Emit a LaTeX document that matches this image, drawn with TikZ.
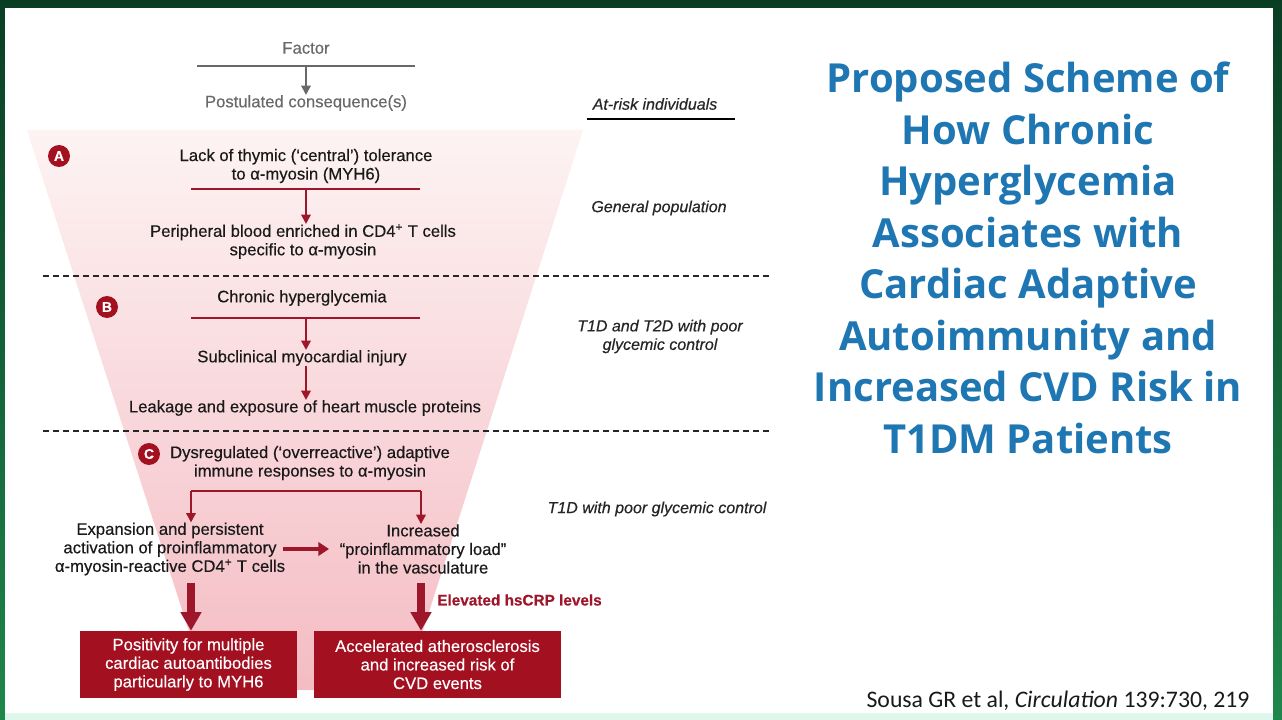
\documentclass[tikz,border=0pt]{standalone}
\usepackage{fontspec}
\setmainfont{Liberation Sans}[FakeBold=0.35]
\newfontfamily\titlefont{Open Sans}
\newfontfamily\citefont{Carlito}
\usetikzlibrary{arrows.meta}
\definecolor{dred}{RGB}{158,22,42}
\definecolor{boxred}{RGB}{163,16,32}
\definecolor{tblue}{RGB}{30,118,178}
\definecolor{fgray}{RGB}{105,105,105}
\definecolor{gtop}{RGB}{10,62,36}
\definecolor{gbot}{RGB}{30,135,76}
\definecolor{pinktop}{RGB}{253,243,243}
\definecolor{pinkbot}{RGB}{244,188,195}
\definecolor{mint}{RGB}{222,246,235}
\begin{document}
\begin{tikzpicture}[x=0.75pt,y=-0.75pt,
  txt/.style={font=\fontsize{12.5}{13.9}\selectfont, align=center, inner sep=0pt, text=black!90},
  gtxt/.style={txt, text=fgray},
  itxt/.style={font=\fontsize{12}{13.9}\selectfont\itshape, align=center, inner sep=0pt, text=black!85},
  wtxt/.style={font=\fontsize{12.5}{13.9}\selectfont, align=center, inner sep=0pt, text=white},
  rbox/.style={fill=boxred, draw=none},
  badge/.style={circle, fill=boxred, text=white, inner sep=0pt, minimum size=16.5pt, font=\fontsize{10.5}{10.5}\selectfont\bfseries},
  rl/.style={draw=dred, line width=2.2pt},
  rarr/.style={draw=dred, line width=1.6pt, -{Triangle[width=7pt,length=7pt]}},
  garr/.style={draw=fgray, line width=1.6pt, -{Triangle[width=7pt,length=7pt]}},
  bigarr/.style={draw=dred, line width=6.5pt, -{Triangle[width=15pt,length=14pt]}},
  harr/.style={draw=dred, line width=3pt, -{Triangle[width=10pt,length=8pt]}},
  dline/.style={draw=black!85, line width=1.5pt, dash pattern=on 4.5pt off 3pt}]
\useasboundingbox (0,0) rectangle (1282,720);
% frame
\shade[top color=gtop, bottom color=gbot] (0,0) rectangle (1282,720);
\fill[white] (5,8) rectangle (1273,713);
\fill[mint] (5,713) rectangle (1273,720);
% funnel
\shade[top color=pinktop, bottom color=pinkbot] (27,130) -- (583,130) -- (404,690) -- (208,690) -- cycle;

% legend
\node[gtxt] (factor) at (306,48) {Factor};
\coordinate (fl) at (197,66);
\coordinate (fr) at (415,66);
\coordinate (fm) at (306,66);
\draw[fgray, line width=2.2pt] (fl) -- (fr);
\node[gtxt] (post) at (306,103) {Postulated consequence(s)};
\draw[garr] (fm) -- (post.north);
\node[itxt] (atrisk) at (655,104) {At-risk individuals};
\coordinate (ul) at (587,119);
\coordinate (ur) at (735,119);
\draw[black, line width=1.8pt] (ul) -- (ur);

% section A
\node[badge] (ba) at (59,156) {A};
\node[txt] (lack) at (306,166) {Lack of thymic (‘central’) tolerance\\to α-myosin (MYH6)};
\coordinate (al) at (191,189);
\coordinate (ar) at (420,189);
\coordinate (am) at (306,189);
\draw[rl] (al) -- (ar);
\node[txt] (peri) at (303,241.5) {Peripheral blood enriched in CD4\textsuperscript{+} T cells\\specific to α-myosin};
\draw[rarr] (am) -- (peri.north -| am);
\node[itxt] (genpop) at (659,208) {General population};

\coordinate (d1l) at (43,276);
\coordinate (d1r) at (770,276);
\draw[dline] (d1l) -- (d1r);

% section B
\node[badge] (bb) at (107,307) {B};
\node[txt] (chronic) at (302,298) {Chronic hyperglycemia};
\coordinate (bl) at (191,318);
\coordinate (br) at (420,318);
\coordinate (bm) at (306,318);
\draw[rl] (bl) -- (br);
\node[txt] (subcl) at (302,358) {Subclinical myocardial injury};
\draw[rarr] (bm) -- (subcl.north -| bm);
\node[txt] (leak) at (305,408) {Leakage and exposure of heart muscle proteins};
\draw[rarr] (subcl.south -| bm) -- (leak.north -| bm);
\node[itxt] (t12) at (660,336.5) {T1D and T2D with poor\\glycemic control};

\coordinate (d2l) at (43,431);
\coordinate (d2r) at (770,431);
\draw[dline] (d2l) -- (d2r);

% section C
\node[badge] (bc) at (149,454) {C};
\node[txt] (dysreg) at (310,463) {Dysregulated (‘overreactive’) adaptive\\immune responses to α-myosin};
\coordinate (cl) at (191,491);
\coordinate (cr) at (421,491);
\draw[rl] (cl) -- (cr);
\node[txt] (expa) at (170,549) {Expansion and persistent\\activation of proinflammatory\\α-myosin-reactive CD4\textsuperscript{+} T cells};
\node[txt] (incr) at (423,549) {Increased\\“proinflammatory load”\\in the vasculature};
\draw[rarr] (cl) -- (expa.north -| cl);
\draw[rarr] (cr) -- (incr.north -| cr);
\coordinate (hs) at (283,549);
\coordinate (he) at (329,549);
\draw[harr] (hs) -- (he);
\node[itxt] (t1d) at (657,509) {T1D with poor glycemic control};

% bottom boxes
\node[rbox, minimum width=162.75pt, minimum height=50.25pt, inner sep=0pt] (pos) at (188.5,664.5) {};
\node[wtxt] at (pos.center) {Positivity for multiple\\cardiac autoantibodies\\particularly to MYH6};
\node[rbox, minimum width=185.25pt, minimum height=50.25pt, inner sep=0pt] (acc) at (437.5,664.5) {};
\node[wtxt] at (acc.center) {Accelerated atherosclerosis\\and increased risk of\\CVD events};
\coordinate (la) at (191,583);
\coordinate (ra) at (421,583);
\draw[bigarr] (la) -- (pos.north -| la);
\draw[bigarr] (ra) -- (acc.north -| ra);
\node[anchor=west, inner sep=0pt, text=dred, font=\fontsize{11.5}{13}\selectfont\bfseries] (hscrp) at (437,600) {Elevated hsCRP levels};

% title
\node[align=center, text=tblue, font=\titlefont\bfseries\fontsize{30}{38.6}\selectfont, inner sep=0pt] (title) at (1028,258) {Proposed Scheme of\\How Chronic\\Hyperglycemia\\Associates with\\Cardiac Adaptive\\Autoimmunity and\\Increased CVD Risk in\\T1DM Patients};
\node[inner sep=0pt, font=\citefont\fontsize{17.8}{20}\selectfont, text=black!90] (cite) at (1058,701) {Sousa GR et al, \textit{Circulation} 139:730, 219};
\end{tikzpicture}
\end{document}
